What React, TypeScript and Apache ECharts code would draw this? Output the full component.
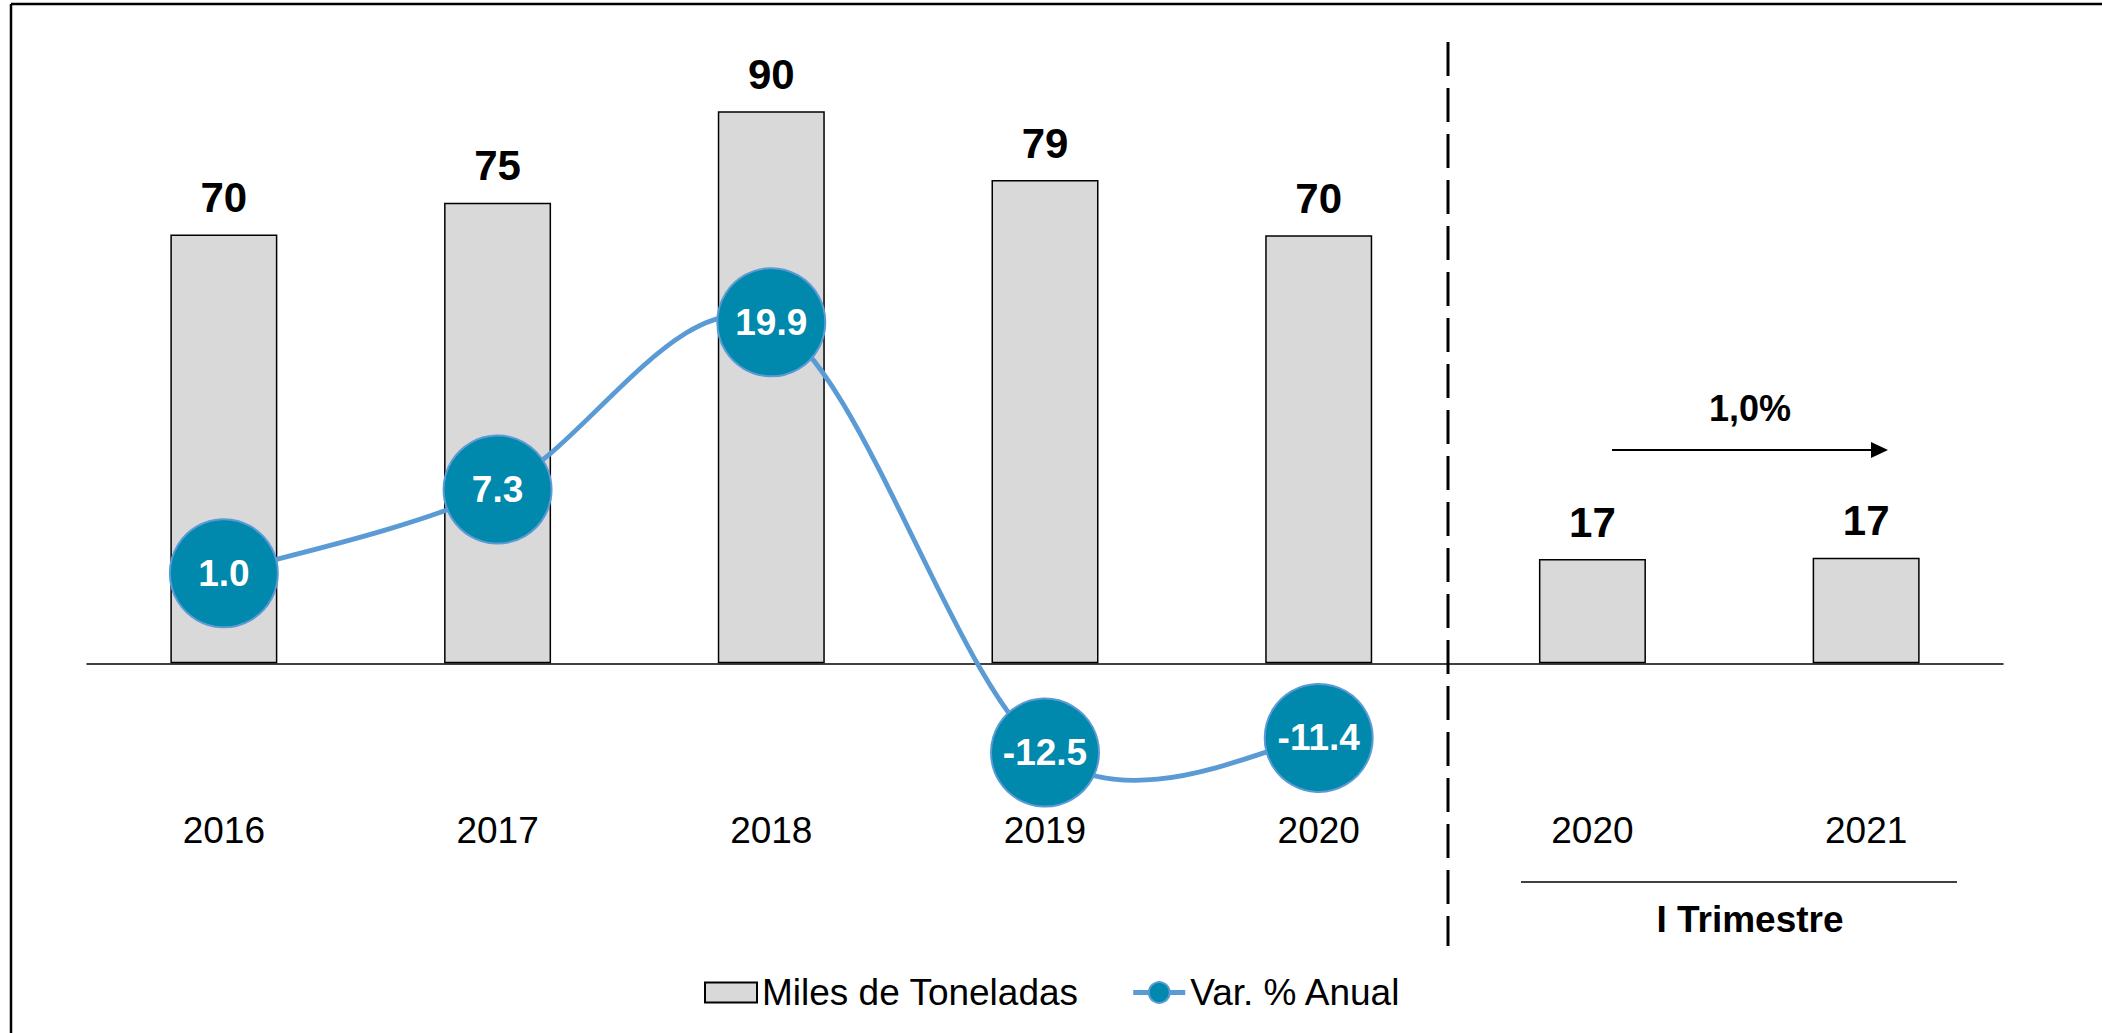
import React, { useEffect, useRef } from 'react';
import * as echarts from 'echarts';

const categories = ['2016', '2017', '2018', '2019', '2020', '2020-IT', '2021-IT'];
const tickLabels = ['2016', '2017', '2018', '2019', '2020', '2020', '2021'];
const toneladas = [69.9, 75.1, 90.0, 78.8, 69.8, 17.0, 17.2];
const variacion: (number | null)[] = [1.0, 7.3, 19.9, -12.5, -11.4, null, null];
const seriesNames = ['Miles de Toneladas', 'Var. % Anual'];
const quarterChange = '1,0%';
const periodLabel = 'I Trimestre';

const FONT = "'Liberation Sans', Arial, Helvetica, sans-serif";
const LINE_COLOR = '#5b9bd5';
const TENSION = 1 / 6;

export default function App() {
  const ref = useRef<HTMLDivElement>(null);

  useEffect(() => {
    if (!ref.current) return;
    const chart = echarts.init(ref.current, undefined, { renderer: 'svg' });
    chart.setOption({
      animation: false,
      backgroundColor: '#ffffff',
      textStyle: { fontFamily: FONT },
      grid: { left: 87, width: 1916, top: 50, height: 736 },
      legend: {
        left: 699,
        top: 969,
        itemWidth: 52,
        itemHeight: 26,
        itemGap: 52,
        textStyle: { fontSize: 37, color: '#000', fontFamily: FONT },
        data: [
          { name: seriesNames[0], icon: 'path://M0,0L52,0L52,20L0,20Z' },
          {
            name: seriesNames[1],
            lineStyle: { color: LINE_COLOR, width: 5, opacity: 1, type: 'solid' },
          },
        ],
      },
      xAxis: {
        type: 'category',
        data: categories,
        axisLine: { show: true, onZero: true, lineStyle: { color: '#000', width: 1.5 } },
        axisTick: { show: false },
        axisLabel: {
          margin: 26,
          fontSize: 37,
          color: '#000',
          fontFamily: FONT,
          formatter: (_v: string, i: number) => tickLabels[i],
        },
        splitLine: { show: false },
      },
      yAxis: [
        { type: 'value', min: -20, max: 100, show: false, splitLine: { show: false } },
        { type: 'value', min: -15.02, max: 40.4, show: false, splitLine: { show: false } },
      ],
      series: [
        {
          name: seriesNames[0],
          type: 'bar',
          yAxisIndex: 0,
          data: toneladas,
          barWidth: 107,
          itemStyle: { color: '#d9d9d9', borderColor: '#000', borderWidth: 1.5 },
          label: {
            show: true,
            position: 'top',
            distance: 16,
            fontSize: 42,
            fontWeight: 'bold',
            color: '#000',
            fontFamily: FONT,
            formatter: (p: any) => String(Math.round(p.value)),
          },
          z: 2,
        },
        {
          type: 'custom',
          yAxisIndex: 1,
          silent: true,
          z: 3,
          data: variacion.map((v, i) => [i, v]),
          encode: { x: 0, y: 1 },
          renderItem: (params: any, api: any) => {
            const i = params.dataIndex;
            const pts = variacion.map((v, k) => (v == null ? null : api.coord([k, v])));
            const p1 = pts[i];
            const p2 = pts[i + 1];
            if (!p1 || !p2) return null;
            const p0 = pts[i - 1] || p1;
            const p3 = pts[i + 2] || p2;
            return {
              type: 'bezierCurve',
              shape: {
                x1: p1[0],
                y1: p1[1],
                x2: p2[0],
                y2: p2[1],
                cpx1: p1[0] + (p2[0] - p0[0]) * TENSION,
                cpy1: p1[1] + (p2[1] - p0[1]) * TENSION,
                cpx2: p2[0] - (p3[0] - p1[0]) * TENSION,
                cpy2: p2[1] - (p3[1] - p1[1]) * TENSION,
              },
              style: { stroke: LINE_COLOR, lineWidth: 4.8, fill: null },
            };
          },
        },
        {
          name: seriesNames[1],
          type: 'line',
          yAxisIndex: 1,
          data: variacion,
          symbol: 'circle',
          symbolSize: 108,
          lineStyle: { color: LINE_COLOR, width: 4.8, opacity: 0 },
          itemStyle: { color: '#0088ad', borderColor: LINE_COLOR, borderWidth: 2 },
          label: {
            show: true,
            position: 'inside',
            fontSize: 37,
            fontWeight: 'bold',
            color: '#fff',
            fontFamily: FONT,
            formatter: (p: any) => (p.value == null ? '' : Number(p.value).toFixed(1)),
          },
          z: 4,
        },
      ],
      graphic: [
        { type: 'line', shape: { x1: 11, y1: 4, x2: 2102, y2: 4 }, style: { stroke: '#000', lineWidth: 2.5 } },
        { type: 'line', shape: { x1: 11, y1: 4, x2: 11, y2: 1033 }, style: { stroke: '#000', lineWidth: 2.5 } },
        {
          type: 'line',
          shape: { x1: 1448, y1: 42, x2: 1448, y2: 946 },
          style: { stroke: '#000', lineWidth: 3, lineDash: [34, 12] },
        },
        { type: 'line', shape: { x1: 1612, y1: 450, x2: 1874, y2: 450 }, style: { stroke: '#000', lineWidth: 2 } },
        {
          type: 'polygon',
          shape: { points: [[1871, 442], [1888, 450], [1871, 458]] },
          style: { fill: '#000' },
        },
        {
          type: 'text',
          x: 1750,
          y: 408,
          style: {
            text: quarterChange,
            fontSize: 36,
            fontWeight: 'bold',
            fontFamily: FONT,
            fill: '#000',
            align: 'center',
            verticalAlign: 'middle',
          },
        },
        { type: 'line', shape: { x1: 1521, y1: 882, x2: 1957, y2: 882 }, style: { stroke: '#000', lineWidth: 1.5 } },
        {
          type: 'text',
          x: 1750,
          y: 919,
          style: {
            text: periodLabel,
            fontSize: 37,
            fontWeight: 'bold',
            fontFamily: FONT,
            fill: '#000',
            align: 'center',
            verticalAlign: 'middle',
          },
        },
      ],
    });
    return () => chart.dispose();
  }, []);

  return (
    <div
      ref={ref}
      style={{ position: 'absolute', left: 0, top: 0, width: 2102, height: 1033, background: '#fff' }}
    />
  );
}
